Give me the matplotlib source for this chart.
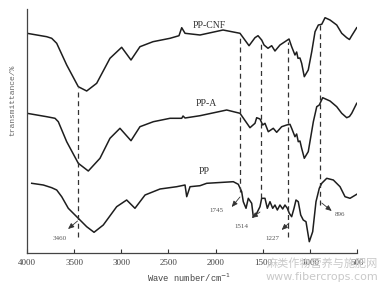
"""
FTIR spectra of PP, PP-A and PP-CNF
===================================
Three stacked transmittance curves with dashed guide lines at the
characteristic bands (3460, 1745, 1514, 1227, 896 cm^-1).

Output: out.png
"""

import matplotlib
matplotlib.use("Agg")
import matplotlib.pyplot as plt

# ---------------------------------------------------------------------------
# Data (offset transmittance, arbitrary units)
# ---------------------------------------------------------------------------

CNF_WN = [4000, 3791, 3738, 3685, 3579, 3456, 3367, 3261, 3120, 2996, 2897,
          2802, 2664, 2483, 2388, 2359, 2324, 2165, 1921, 1741, 1645, 1582,
          1550, 1511, 1486, 1444, 1405, 1370, 1317, 1264, 1221, 1193, 1158,
          1140, 1126, 1105, 1087, 1059, 1017, 980, 945, 910, 874, 839, 786,
          715, 662, 609, 580, 556, 503]
CNF_T = [219.7, 216.3, 214.7, 209.7, 188.0, 166.3, 162.0, 169.7, 194.7, 205.7,
         193.0, 206.3, 211.3, 214.7, 217.3, 225.3, 219.7, 218.0, 223.0, 219.7,
         207.3, 215.3, 217.3, 213.0, 208.0, 204.7, 207.3, 202.0, 208.0, 211.3,
         214.0, 206.3, 198.0, 201.0, 194.7, 195.0, 189.7, 176.3, 183.0, 201.3,
         221.3, 228.0, 228.7, 235.3, 233.0, 228.0, 219.7, 215.3, 213.5, 217.3,
         225.3]

PPA_WN = [4000, 3791, 3703, 3668, 3579, 3456, 3350, 3226, 3120, 3014, 2897,
          2802, 2660, 2483, 2359, 2345, 2324, 2165, 1882, 1741, 1635, 1582,
          1564, 1529, 1500, 1476, 1441, 1388, 1352, 1299, 1246, 1211, 1193,
          1158, 1140, 1123, 1105, 1087, 1059, 1017, 963, 927, 900, 864, 786,
          715, 662, 609, 580, 556, 503]
PPA_T = [139.7, 136.3, 134.7, 131.3, 111.3, 89.7, 82.0, 94.7, 114.7, 124.7,
         112.3, 126.3, 131.3, 134.7, 134.7, 137.0, 135.0, 137.3, 143.0, 139.7,
         125.3, 129.7, 135.3, 134.0, 128.0, 129.7, 121.3, 124.7, 120.7, 126.3,
         128.0, 128.7, 124.7, 116.3, 119.0, 111.3, 112.0, 104.7, 94.7, 101.3,
         131.3, 146.3, 148.0, 155.3, 152.0, 146.3, 139.7, 135.3, 136.5, 139.7,
         149.7]

PP_WN = [3950, 3827, 3738, 3685, 3632, 3562, 3456, 3367, 3289, 3191, 3049,
         2943, 2855, 2748, 2589, 2412, 2324, 2306, 2271, 2165, 2094, 1918,
         1812, 1759, 1723, 1706, 1677, 1653, 1617, 1600, 1564, 1529, 1511,
         1476, 1451, 1423, 1394, 1370, 1345, 1317, 1288, 1264, 1239, 1218,
         1193, 1168, 1147, 1123, 1097, 1070, 1041, 1006, 970, 935, 900, 874,
         821, 751, 680, 627, 574, 503]
PP_T = [69.7, 68.0, 65.3, 63.0, 56.3, 44.7, 34.7, 26.3, 20.7, 28.0, 46.3,
        53.0, 44.7, 58.0, 64.0, 66.3, 68.0, 56.3, 66.3, 67.3, 69.7, 70.7,
        71.3, 68.7, 61.3, 51.3, 44.7, 54.7, 49.7, 36.3, 39.7, 46.3, 54.7,
        54.7, 44.7, 51.3, 44.7, 48.0, 43.0, 48.0, 44.0, 48.0, 44.7, 39.7,
        36.3, 44.7, 53.0, 51.3, 38.0, 33.0, 31.3, 11.3, 21.3, 51.3, 64.7,
        69.7, 74.7, 73.0, 66.3, 56.3, 54.7, 58.7]

SERIES_NAMES = ["PP-CNF", "PP-A", "PP"]
NAME_POS = [(2070, 228), (2100, 149), (2123, 81)]

BANDS = [3460, 1745, 1514, 1227, 896]
BAND_TOP = [165, 216, 213, 211, 228]
BAND_BOTTOM = [16, 61, 55, 16, 48]
# (label, text pos, arrow head, arrow tail on curve)
BAND_TEXT = [(3650, 15), (1990, 43), (1725, 27), (1396, 15), (680, 38)]
BAND_HEAD = [(3565, 24), (1829, 46), (1617, 35), (1299, 23), (768, 42)]
BAND_TAIL = [(3464, 32), (1741, 56), (1529, 41), (1221, 30), (874, 50)]

X_TICKS = [4000, 3500, 3000, 2500, 2000, 1500, 1000, 500]

LINE_COLOR = "#1e1e1e"
SERIF = "Liberation Serif"
MONO = "Liberation Mono"


def main() -> None:
    fig = plt.figure(figsize=(3.88, 2.90), dpi=100)
    ax = fig.add_axes([27 / 388, 1 - 253 / 290, 330 / 388, 244 / 290])

    for wn, t in ((CNF_WN, CNF_T), (PPA_WN, PPA_T), (PP_WN, PP_T)):
        ax.plot(wn, t, color=LINE_COLOR, lw=1.1, solid_joinstyle="round")

    for name, (x, y) in zip(SERIES_NAMES, NAME_POS):
        ax.text(x, y, name, fontsize=7, family=SERIF, color="#333333",
                ha="center", va="center")

    for band, top, bot in zip(BANDS, BAND_TOP, BAND_BOTTOM):
        ax.plot([band, band], [bot, top], color="#333333", lw=0.9,
                ls=(0, (4, 3)))

    for band, txt, head, tail in zip(BANDS, BAND_TEXT, BAND_HEAD, BAND_TAIL):
        ax.text(txt[0], txt[1], str(band), fontsize=5, family=SERIF,
                color="#555555", ha="center", va="center")
        ax.annotate("", xy=head, xytext=tail,
                    arrowprops=dict(arrowstyle="-|>,head_length=0.35,head_width=0.15",
                                    color="#333333", lw=0.6,
                                    shrinkA=0, shrinkB=0))

    ax.set_xlim(4000, 500)
    ax.set_ylim(0, 244)
    ax.set_xticks(X_TICKS)
    ax.set_xticklabels([str(v) for v in X_TICKS], family=SERIF, fontsize=6.5,
                       color="#444444")
    ax.set_yticks([])
    ax.tick_params(axis="x", direction="in", length=3, width=0.8,
                   color="#333333", pad=4)
    ax.spines[["top", "right"]].set_visible(False)
    for side in ("left", "bottom"):
        ax.spines[side].set_color("#444444")
        ax.spines[side].set_linewidth(0.9)

    fig.text(189 / 388, 1 - 278 / 290, "Wave number/cm$^{-1}$", fontsize=6.3,
             family=MONO, color="#444444", ha="center", va="center")
    fig.text(13 / 388, 1 - 100 / 290, "transmittance/%", fontsize=5.8,
             family=MONO, color="#666666", ha="center", va="center",
             rotation=90)

    # site watermark
    fig.text(322 / 388, 1 - 264 / 290, "麻类作物营养与施肥网", fontsize=8,
             family=["Noto Sans CJK SC", "DejaVu Sans"], color="#c9c9c9",
             ha="center", va="center")
    fig.text(322 / 388, 1 - 277 / 290, "www.fibercrops.com", fontsize=8,
             family="DejaVu Sans", color="#c9c9c9", ha="center", va="center")

    fig.savefig("out.png", dpi=100)
    plt.close(fig)


if __name__ == "__main__":
    main()
